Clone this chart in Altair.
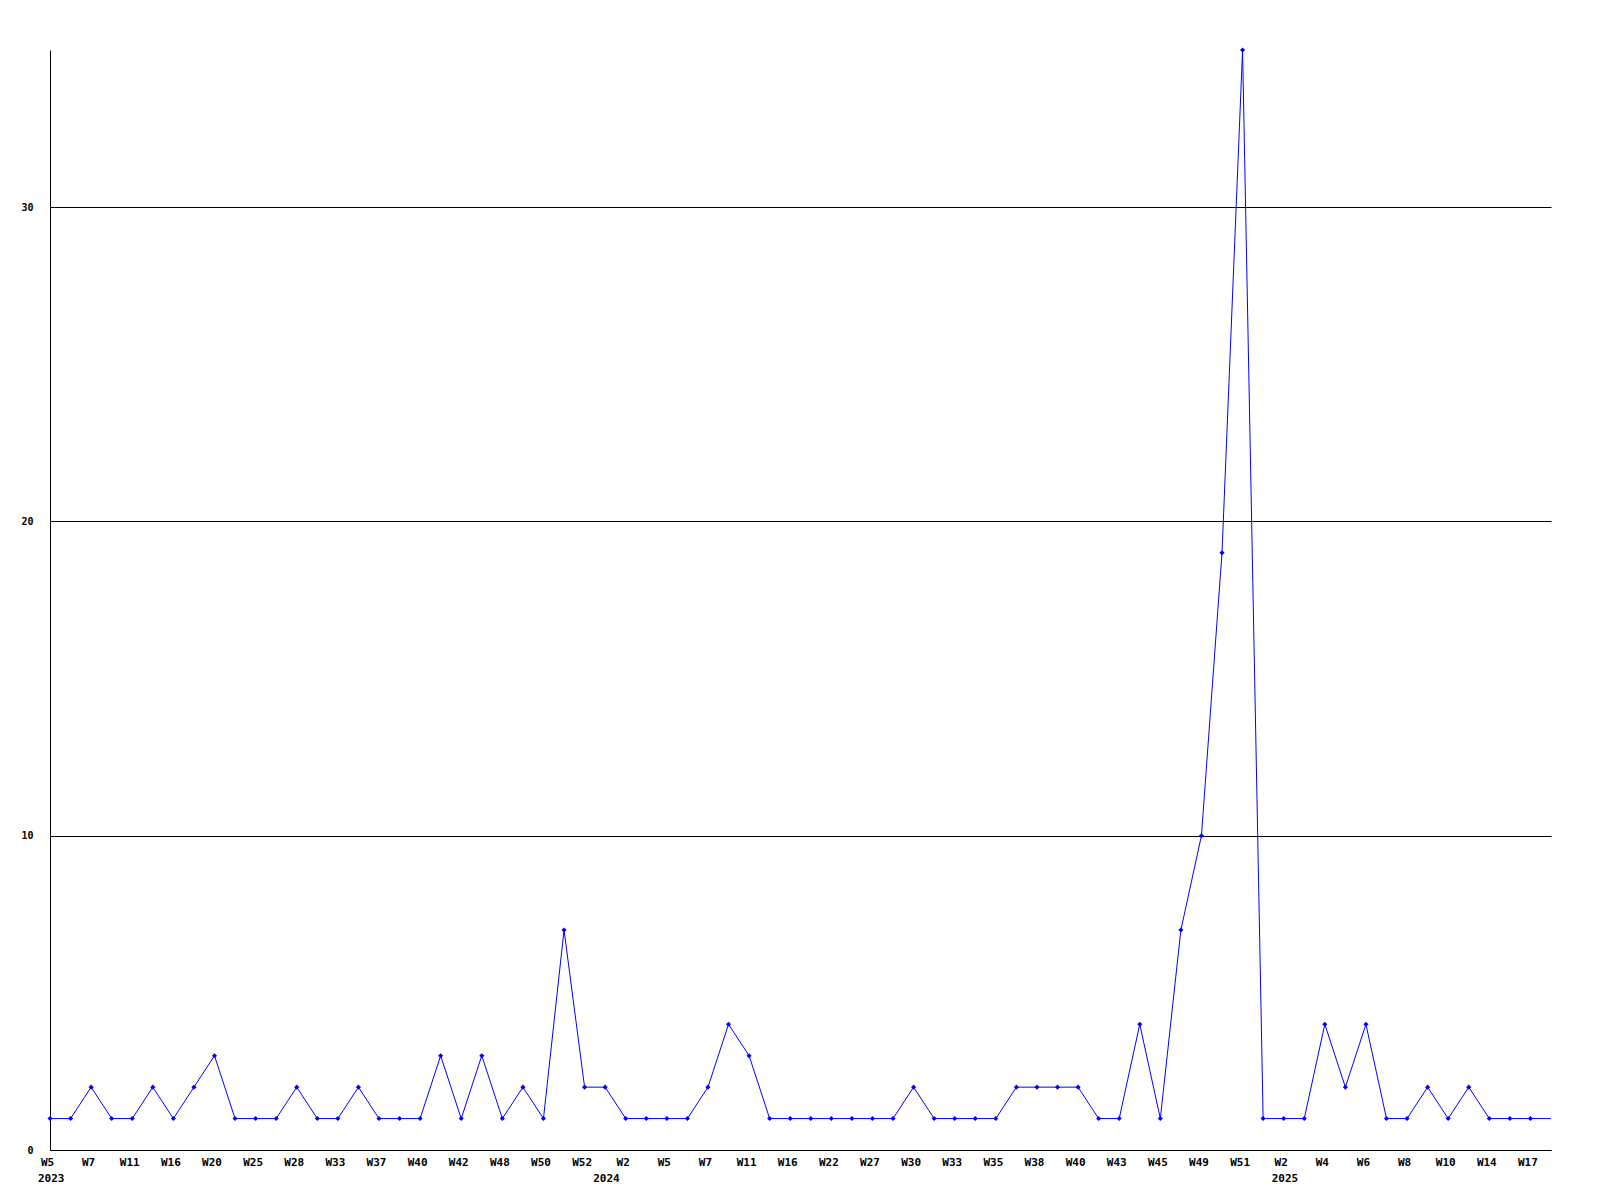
import altair as alt
import pandas as pd

# data values (one per plotted week)
values = [1, 1, 2, 1, 1, 2, 1, 2, 3, 1,
          1, 1, 2, 1, 1, 2, 1, 1, 1, 3,
          1, 3, 1, 2, 1, 7, 2, 2, 1, 1,
          1, 1, 2, 4, 3, 1, 1, 1, 1, 1,
          1, 1, 2, 1, 1, 1, 1, 2, 2, 2,
          2, 1, 1, 4, 1, 7, 10, 19, 35, 1,
          1, 1, 4, 2, 4, 1, 1, 2, 1, 2,
          1, 1, 1, 1]

# tick labels (every second point)
week_labels = ["W5", "W7", "W11", "W16", "W20", "W25", "W28", "W33", "W37", "W40",
               "W42", "W48", "W50", "W52", "W2", "W5", "W7", "W11", "W16", "W22",
               "W27", "W30", "W33", "W35", "W38", "W40", "W43", "W45", "W49", "W51",
               "W2", "W4", "W6", "W8", "W10", "W14", "W17"]

years = ["2023", "2024", "2025"]
year_index = [0, 27, 60]

n = len(values)
df = pd.DataFrame({"i": list(range(n)), "v": values})
df_pts = df.iloc[:-1]
df_years = pd.DataFrame({"i": year_index, "label": years})

label_expr = "[" + ",".join("'" + s + "'" for s in week_labels) + "][datum.value/2]"

W = 1501
H = 1100
FONT = "DejaVu Sans Mono"

x_scale = alt.Scale(domain=[0, n - 1], nice=False, zero=False)
y_scale = alt.Scale(domain=[0, 35], nice=False)

x_axis = alt.Axis(values=list(range(0, 2 * len(week_labels), 2)), labelExpr=label_expr,
                  grid=False, ticks=False, domainColor="black", domainWidth=1,
                  labelFont=FONT, labelFontWeight="bold", labelFontSize=11,
                  labelColor="black", labelPadding=6, labelOffset=-3,
                  labelBaseline="top", labelFlush=False, labelOverlap=False, title=None)
y_axis = alt.Axis(values=[0, 10, 20, 30], grid=True, gridColor="black", gridWidth=1,
                  gridOpacity=1, ticks=False, domainColor="black", domainWidth=1,
                  labelFont=FONT, labelFontWeight="bold", labelFontSize=10,
                  labelColor="black", labelPadding=17, title=None)

base = alt.Chart(df)
line = base.mark_line(color="#0000ff", strokeWidth=1, clip=True).encode(
    x=alt.X("i:Q", scale=x_scale, axis=x_axis),
    y=alt.Y("v:Q", scale=y_scale, axis=y_axis),
)
pts = alt.Chart(df_pts).mark_point(shape="diamond", filled=True, size=26,
                                   color="#0000ff", opacity=1).encode(
    x=alt.X("i:Q", scale=x_scale),
    y=alt.Y("v:Q", scale=y_scale),
)
yr = alt.Chart(df_years).mark_text(font=FONT, fontWeight="bold", fontSize=11,
                                   color="black", align="left", baseline="top",
                                   dx=-12).encode(
    x=alt.X("i:Q", scale=x_scale),
    y=alt.value(H + 23),
    text="label:N",
)

chart = alt.layer(line, pts, yr).properties(
    width=W, height=H,
    autosize=alt.AutoSizeParams(type="none"),
    padding={"left": 42, "top": 42, "right": 30, "bottom": 40},
    background="white",
).configure_view(stroke=None)

chart.save("out.html", embed_options={"renderer": "svg", "actions": False})
